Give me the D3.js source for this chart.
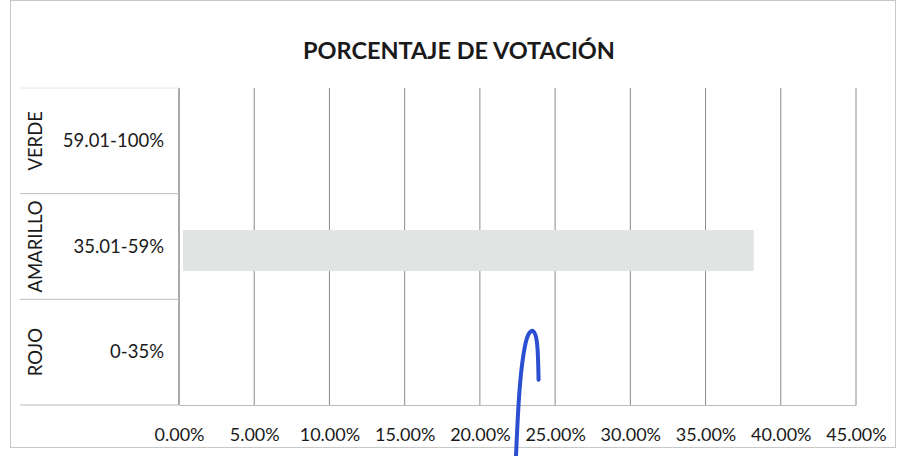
<!DOCTYPE html>
<html><head><meta charset="utf-8">
<script src="https://cdn.jsdelivr.net/npm/d3@7"></script>
<style>body{margin:0;background:#fff;font-family:Lato,"Open Sans",sans-serif;}</style>
</head><body><svg id="c" width="898" height="456"></svg>
<script>
const groups = ["VERDE","AMARILLO","ROJO"];
const ranges = ["59.01-100%","35.01-59%","0-35%"];
const values = [null, 38.2, null];
const ticks = [0,5,10,15,20,25,30,35,40,45];
const title = "PORCENTAJE DE VOTACIÓN";

const svg = d3.select("#c");
const m = {left:179, right:856, top:88, bottom:405};
const x = d3.scaleLinear().domain([0,45]).range([m.left,m.right]);
const y = d3.scaleBand().domain(groups).range([m.top,m.bottom]);

// frame
svg.append("rect").attr("x",10.5).attr("y",0.5).attr("width",885).attr("height",447)
  .attr("fill","none").attr("stroke","#c8c8c8");

svg.append("text").attr("x",459).attr("y",59).attr("text-anchor","middle")
  .attr("font-size",23.5).attr("font-weight","bold").attr("fill","#1a1a1a").text(title);

// gridlines
svg.append("g").selectAll("line").data(ticks).join("line")
  .attr("x1",d=>x(d)).attr("x2",d=>x(d)).attr("y1",m.top).attr("y2",m.bottom)
  .attr("stroke",d=>d===0?"#555":"#8a8a8a").attr("stroke-width",1);

// bar
const bh = 41;
svg.append("g").selectAll("rect").data(groups.map((g,i)=>({g,v:values[i]})).filter(d=>d.v!=null))
  .join("rect").attr("x",x(0)+4).attr("width",d=>x(d.v)-x(0)-4)
  .attr("y",d=>y(d.g)+y.bandwidth()/2-bh/2+4).attr("height",bh).attr("fill","#e2e3e3");

// x axis
const ax = svg.append("g").attr("transform",`translate(0,${m.bottom})`)
  .call(d3.axisBottom(x).tickValues(ticks).tickSize(0).tickFormat(d=>d3.format(".2f")(d)+"%"));
ax.select(".domain").attr("stroke","#bbb");
ax.selectAll("text").attr("font-size",18).attr("fill","#1a1a1a").attr("dy","1.85em")
  .attr("font-family","Lato,'Open Sans',sans-serif");

// category table lines
const sep = [m.top].concat(groups.map(g=>y(g)+y.bandwidth()));
svg.append("g").selectAll("line").data(sep).join("line")
  .attr("x1",20).attr("x2",m.left).attr("y1",d=>d).attr("y2",d=>d)
  .attr("stroke",(d,i)=>i===0?"#e6e6e6":"#bdbdbd");

// labels
svg.append("g").selectAll("text").data(groups).join("text")
  .attr("transform",g=>`translate(42,${y(g)+y.bandwidth()/2}) rotate(-90)`)
  .attr("text-anchor","middle").attr("font-size",18.5).attr("fill","#1a1a1a").text(d=>d);
svg.append("g").selectAll("text").data(groups).join("text")
  .attr("x",164).attr("y",g=>y(g)+y.bandwidth()/2+6)
  .attr("text-anchor","end").attr("font-size",18.5).attr("fill","#1a1a1a").text((g,i)=>ranges[i]);

// handwritten pen mark (annotation)
const pen = d3.line().curve(d3.curveBasis);
const py = d3.scaleLinear().domain([0,1]).range([m.bottom,m.top]);
svg.append("path").attr("d",pen([
  [x(22.4),456],[x(22.6),py(0.05)],[x(22.9),py(0.17)],[x(23.2),py(0.23)],[x(23.6),py(0.24)],[x(23.85),py(0.2)],[x(23.9),py(0.08)]
])).attr("fill","none").attr("stroke","#2a4fd0").attr("stroke-width",4).attr("stroke-linecap","round");
</script></body></html>
